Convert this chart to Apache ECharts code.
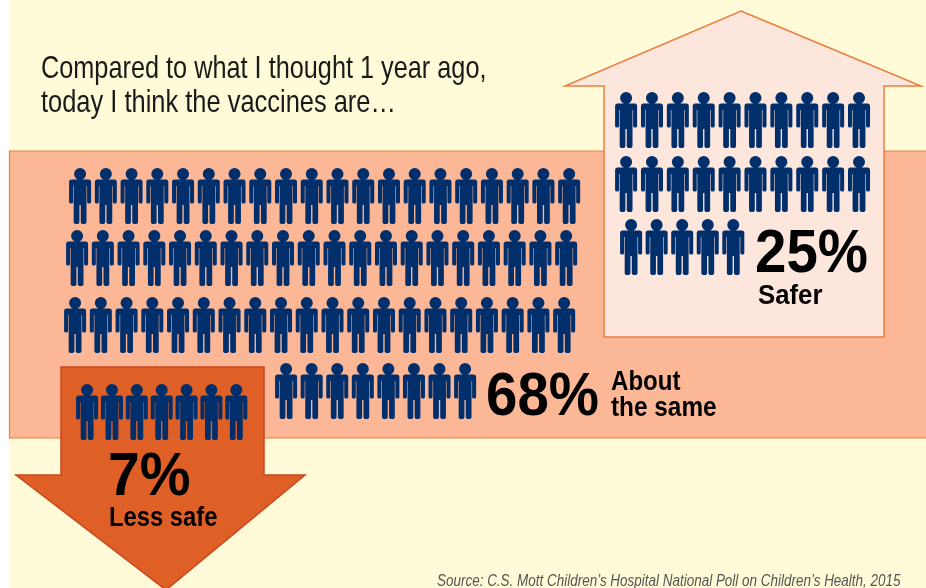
<!DOCTYPE html>
<html><head><meta charset="utf-8">
<style>html,body{margin:0;padding:0;background:#fff}#c{width:926px;height:588px}</style>
<script src="https://cdn.jsdelivr.net/npm/echarts@6/dist/echarts.min.js"></script>
</head><body><div id="c"></div>
<script>
// Data: people (out of 100) per row of each answer group
const categories = ['Safer', 'About the same', 'Less safe'];
const percents = [25, 68, 7];
const saferRows = [10, 10, 5];
const aboutSameRows = [20, 20, 20, 8];
const lessSafeRows = [7];

const titleLines = ['Compared to what I thought 1 year ago,', 'today I think the vaccines are\u2026'];
const sourceText = 'Source: C.S. Mott Children\u2019s Hospital National Poll on Children\u2019s Health, 2015';

const personPath = 'path://M11 0a6 6 0 1 1 0 12a6 6 0 1 1 0-12zM2.5 11.6H19.5Q22 11.6 22 14.1V34Q22 35.6 20 35.6Q18 35.6 18 34V18H17.4V54Q17.4 56 14.6 56Q11.7 56 11.7 54V37H10.3V54Q10.3 56 7.4 56Q4.6 56 4.6 54V18H4V34Q4 35.6 2 35.6Q0 35.6 0 34V14.1Q0 11.6 2.5 11.6Z';

// Where each row of people sits on the page: [left, top, pitch]
const saferLayout = [[615, 92, 25.9], [615, 156, 25.9], [620, 219, 25.6]];
const aboutLayout = [[69, 168, 25.75], [66, 230, 25.75], [64, 297, 25.75], [275, 363, 25.6]];
const lessLayout = [[76, 384, 24.9]];

const grid = [], xAxis = [], yAxis = [], series = [];
function addRows(name, counts, layout) {
  counts.forEach((count, i) => {
    const [left, top, pitch] = layout[i];
    const idx = grid.length;
    grid.push({ left, top, width: 22 + pitch * (count - 1), height: 56 });
    xAxis.push({ gridIndex: idx, type: 'value', min: 0, max: count, show: false });
    yAxis.push({ gridIndex: idx, type: 'category', data: [name + ' row ' + (i + 1)], show: false });
    series.push({
      type: 'pictorialBar', name, xAxisIndex: idx, yAxisIndex: idx,
      symbol: personPath, symbolSize: [22, 56], symbolRepeat: count,
      symbolMargin: (pitch - 22) / 2, symbolPosition: 'start', symbolClip: false,
      itemStyle: { color: '#002F6C', borderColor: '#002F6C', borderWidth: 0.3 }, silent: true, animation: false,
      barWidth: 56, data: [count]
    });
  });
}
addRows(categories[0], saferRows, saferLayout);
addRows(categories[1], aboutSameRows, aboutLayout);
addRows(categories[2], lessSafeRows, lessLayout);

const sans = '"Liberation Sans",Arial,sans-serif';
function txt(text, x, baseline, size, weight, scaleX, fill) {
  return { type: 'text', x, y: baseline - 0.83 * size, scaleX, z: 20, silent: true,
    style: { text, font: `${weight} ${size}px ${sans}`, fill: fill || '#000' } };
}
function poly(points, fill, stroke) {
  return { type: 'polygon', z: -10, silent: true, shape: { points },
    style: { fill, stroke, lineWidth: 1.5 } };
}
const graphic = [
  { type: 'rect', z: -12, silent: true, shape: { x: 9.5, y: 0, width: 917, height: 588 }, style: { fill: '#FFFBD8' } },
  { type: 'rect', z: -11, silent: true, shape: { x: 9.5, y: 151, width: 930, height: 287 }, style: { fill: '#FCB896', stroke: '#EA7D3F', lineWidth: 1.2 } },
  poly([[741, 11], [921, 86], [884, 86], [884, 337], [604, 337], [604, 86], [565, 86]], '#FDE6DC', '#EA7D3F'),
  poly([[61, 367], [264, 367], [264, 475], [305, 475], [166, 590], [16, 475], [61, 475]], '#DF6026', '#C9461F'),
  txt(titleLines[0], 41, 80, 32, 'normal', 0.79, '#1a1a1a'),
  txt(titleLines[1], 41, 114, 32, 'normal', 0.795, '#1a1a1a'),
  txt(percents[0] + '%', 755, 275, 62, 'bold', 0.91),
  txt(categories[0], 758, 306, 28, 'bold', 0.92),
  txt(percents[1] + '%', 486, 418, 62, 'bold', 0.91),
  txt('About', 611, 392, 28, 'bold', 0.86),
  txt('the same', 611, 418, 28, 'bold', 0.87),
  txt(percents[2] + '%', 108, 498, 62, 'bold', 0.92),
  txt(categories[2], 109, 528, 28, 'bold', 0.85),
  txt(sourceText, 437, 587, 17, 'italic', 0.792, '#555')
];

const chart = echarts.init(document.getElementById('c'), null, { renderer: 'canvas' });
chart.setOption({ animation: false, backgroundColor: '#fff', grid, xAxis, yAxis, series, graphic });
</script></body></html>
